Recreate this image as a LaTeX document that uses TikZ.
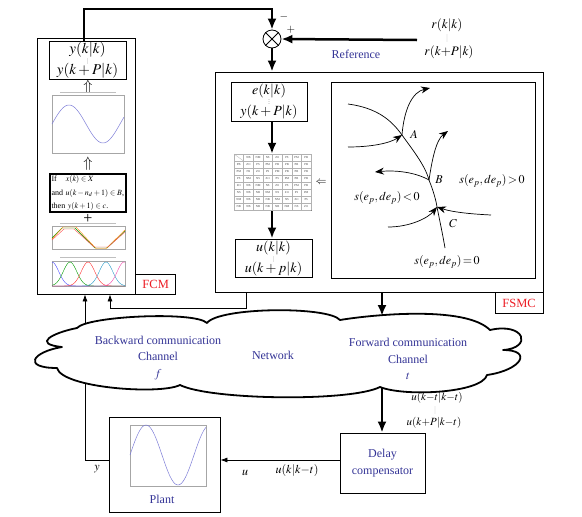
\documentclass[tikz,border=0pt]{standalone}
\usepackage{mathptmx}
\usepackage[no-math]{fontspec}
\setmainfont{Liberation Serif}
\usepackage{amsmath}
\usetikzlibrary{arrows.meta,positioning}

\definecolor{netblue}{RGB}{52,52,150}
\definecolor{tagred}{RGB}{236,28,36}
\definecolor{curveblue}{RGB}{125,125,215}

\begin{document}
\begin{tikzpicture}[x=1pt,y=1pt,yscale=-1,xscale=1,
  frame/.style={draw,line width=0.8pt,inner sep=0pt},
  blk/.style={draw,line width=1pt,inner sep=0pt,align=center,font=\fontsize{14}{14}\selectfont},
  tag/.style={draw,line width=0.6pt,inner sep=0pt,text=tagred,font=\fontsize{12.5}{13}\selectfont},
  bluetxt/.style={text=netblue,align=center,font=\fontsize{12}{16.5}\selectfont},
  mtxt/.style={inner sep=0.75pt,font=\fontsize{12}{12}\selectfont},
  cell/.style={inner sep=0pt,text=gray!50!black,font=\fontsize{3}{3}\selectfont},
  dotline/.style={draw=gray,line width=0.7pt,line cap=round,dash pattern=on 0pt off 2pt},
  thickarr/.style={line width=2.5pt,-{Latex[length=11pt,width=9pt]}},
  thinarr/.style={line width=0.7pt,-{Latex[length=7pt,width=5pt]}},
  traj/.style={line width=0.7pt,-{Stealth[length=9pt,width=7pt]}},
  axbox/.style={draw=gray!70,line width=0.3pt},
  ]
\useasboundingbox (0,0) rectangle (582,517);

%Shape: FCM block
\node[frame,minimum width=98,minimum height=256] (fcm) at (86,166) {};
\node[tag,minimum width=40,minimum height=20,anchor=south west] (fcmtag) at (fcm.south east) {FCM};
\node[blk,minimum width=77,minimum height=38,font=\fontsize{15}{15}\selectfont] (yb) at (87.5,60) {$y(k|k)$\\[6pt]$y(k+P|k)$};
\draw[dotline] (yb.center) ++(0,-1) -- ++(0,4);
\node[inner sep=0pt,font=\fontsize{15}{15}\selectfont] (up1) at (88,87) {$\Uparrow$};
%Plot: model output
\draw[gray!50,line width=0.4pt] (60,92) -- (116,92);
\draw[axbox] (52,95) rectangle (124,153);
\draw[curveblue,line width=0.5pt] plot[domain=52:124,samples=60] (\x,{124-19*sin(deg((\x-52)*2*pi/68))});
\node[inner sep=0pt,font=\fontsize{15}{15}\selectfont] (up2) at (88,164) {$\Uparrow$};
\node[draw,line width=1.4pt,minimum width=76,minimum height=38,inner sep=1.5pt,text width=73,align=left,font=\fontsize{8}{13.5}\selectfont] (rule) at (88,193) {If\hspace{9pt}$x(k)\in X$\\and $u(k-n_d+1)\in B$,\\then $y(k+1)\in c$.};
\node[inner sep=0pt,font=\fontsize{16}{16}\selectfont] (plus) at (88,219) {+};
%Plot: fuzzy model lines
\draw[gray!50,line width=0.4pt] (60,223) -- (116,223);
\draw[axbox] (52,226) rectangle (125,249);
\draw[green!60!black,line width=0.4pt] (52,238) -- (62,228) -- (75,228) -- (95,248) -- (107,248) -- (125,231);
\draw[orange,line width=0.4pt] (52,239) -- (63,227) -- (76,227) -- (96,248.5) -- (106,248.5) -- (125,230);
\draw[red!70,line width=0.4pt] (52,240) -- (64,229) -- (74,229) -- (94,247) -- (108,247) -- (125,232);
%Plot: membership functions
\draw[gray!50,line width=0.4pt] (60,257) -- (116,257);
\draw[axbox] (52,261) rectangle (125,286);
\foreach \c/\col in {52/blue!70,70/green!60!black,88/red!80,106/cyan!80!black,124/magenta!70}
  \draw[\col,line width=0.4pt] plot[domain=52:125,samples=50] (\x,{286-24*exp(-((\x-\c)^2)/90)});

%Shape: FSMC block
\node[frame,minimum width=328,minimum height=220] (fsmc) at (379,182) {};
\node[tag,minimum width=48,minimum height=21,anchor=north east] (fsmctag) at (fsmc.south east) {FSMC};
\node[blk,minimum width=76,minimum height=39] (eb) at (269,101.5) {$e(k|k)$\\[7pt]$y(k+P|k)$};
\draw[dotline] (eb.center) ++(0,-2) -- ++(0,4);
\node[draw=gray,line width=0.4pt,minimum width=77,minimum height=56,inner sep=0pt] (tab) at (272.5,182) {};
\node[blk,minimum width=77,minimum height=38] (ub) at (273.5,258) {$u(k|k)$\\[7pt]$u(k+p|k)$};
\draw[dotline] (ub.center) ++(0,-1) -- ++(0,4);
\coordinate (colx) at (272,0);
\draw[thickarr] (eb.south -| colx) -- (tab.north -| colx);
\draw[thickarr] (tab.south -| colx) -- (ub.north -| colx);
%Rule table
\foreach \k in {0,...,8} {
  \draw[gray!60,line width=0.3pt] ({234+9.625*\k},154) -- ({234+9.625*\k},210);
  \draw[gray!60,line width=0.3pt] (234,{154+7*\k}) -- (311,{154+7*\k});
}
\draw[gray!60,line width=0.3pt] (234,154) -- (243.6,161);
\foreach \h [count=\j] in {NB,NM,NS,ZO,PS,PM,PB}
  \node[cell] (th\j) at ({234+9.625*(\j+0.5)},157.5) {\h};
\foreach \lab/\row [count=\i] in {PB/{ZO,PS,PM,PB,PB,PB,PB},PM/{NS,ZO,PS,PM,PB,PB,PB},PS/{NM,NS,ZO,PS,PM,PB,PB},ZO/{NB,NM,NS,ZO,PS,PM,PB},NS/{NB,NB,NM,NS,ZO,PS,PM},NM/{NB,NB,NB,NM,NS,ZO,PS},NB/{NB,NB,NB,NB,NM,NS,ZO}} {
  \node[cell] (tr\i) at (238.8,{154+7*(\i+0.5)}) {\lab};
  \foreach \v [count=\j] in \row
    \node[cell] (t\i\j) at ({234+9.625*(\j+0.5)},{154+7*(\i+0.5)}) {\v};
}
\node[mtxt,font=\fontsize{11}{11}\selectfont] (larr) at (321,182) {$\Leftarrow$};

%Shape: sliding surface plane
\node[frame,minimum width=204,minimum height=196] (slide) at (433,180) {};
\coordinate (A) at (402,135);
\coordinate (B) at (429,180);
\coordinate (C) at (437,207);
\draw[line width=0.7pt] (348,104) .. controls (378,108) and (392,121) .. (A)
  .. controls (412,149) and (425,165) .. (B)
  .. controls (433,190) and (436,200) .. (C)
  .. controls (440,222) and (443,236) .. (445,248);
\draw[traj] (348,147) .. controls (372,147) and (390,143) .. (A);
\draw[traj] (A) .. controls (404,110) and (412,92) .. (430,88);
\draw[traj] (B) .. controls (432,160) and (436,140) .. (448,131);
\draw[traj] (B) .. controls (415,172) and (395,170) .. (375,172);
\draw[traj] (388,227) .. controls (410,227) and (428,218) .. (C);
\draw[traj] (491,215) .. controls (470,214) and (452,212) .. (C);
% Text Node
\node[mtxt] (lA) at (414,134) {$A$};
\node[mtxt] (lB) at (439,180) {$B$};
\node[mtxt] (lC) at (453,224) {$C$};
\node[mtxt] (spos) at (492,181) {$s(e_p,de_p)\!>\!0$};
\node[mtxt] (sneg) at (387,198) {$s(e_p,de_p)\!<\!0$};
\node[mtxt] (szero) at (447,262) {$s(e_p,de_p)\!=\!0$};

%Summing junction and reference
\coordinate (topl) at (84,9);
\node[draw,circle,minimum size=18,inner sep=0pt,line width=0.8pt] (sum) at (272,39) {};
\draw[line width=0.8pt] (sum.north west) -- (sum.south east) (sum.north east) -- (sum.south west);
\draw[thickarr] (topl |- yb.north) -- (topl) -| (sum.north);
\node[mtxt,font=\fontsize{11}{11}\selectfont] (minus) at (284,17) {$-$};
\node[mtxt,font=\fontsize{11}{11}\selectfont] (plusin) at (291,30) {$+$};
\node[mtxt,font=\fontsize{13}{13}\selectfont] (ref1) at (447,25) {$r(k|k)$};
\draw[dotline] (447,35) -- (447,41);
\node[mtxt,font=\fontsize{13}{13}\selectfont] (ref2) at (449,52) {$r(k{+}P|k)$};
\coordinate (refstart) at (417,40);
\draw[thickarr] (refstart) -- (sum.east);
\node[bluetxt] (reflab) at (356,54) {Reference};
\draw[thickarr] (sum.south) -- (sum.south |- fsmc.north);

%Plant and delay compensator
\node[frame,minimum width=111,minimum height=95] (plant) at (164.5,464.5) {};
\draw[axbox] (130,425) rectangle (206,486);
\draw[curveblue,line width=0.5pt] plot[domain=130:206,samples=60] (\x,{455-30*sin(deg((\x-130)*2*pi/64))});
\node[bluetxt] (plantlab) at (162,499) {Plant};
\node[frame,minimum width=85,minimum height=60,bluetxt] (delay) at (382.5,463) {Delay\\compensator};

%Straight Lines
\coordinate (fb1) at (246,308);
\coordinate (fb2) at (110,308);
\draw[thinarr] (fsmc.south -| fb1) |- (fb2) -- (fb2 |- fcm.south);
\coordinate (yx) at (85,460);
\draw[thinarr] (plant.west |- yx) -- (yx) -- (yx |- fcm.south);
\draw[thinarr] (delay.west |- yx) -- (plant.east |- yx);

%Shape: network cloud
\draw[line width=1.8pt,fill=white,line join=round]
  (77,328) .. controls +(10,-12) and +(-12,-12) .. (207,323)
  .. controls +(12,-16) and +(-12,-14) .. (340,320)
  .. controls +(30,-5) and +(-25,-25) .. (490,330)
  .. controls +(35,-8) and +(30,-2) .. (503,350)
  .. controls +(30,0) and +(35,-5) .. (487,375)
  .. controls +(-5,18) and +(25,10) .. (380,387)
  .. controls +(-30,15) and +(30,15) .. (180,385)
  .. controls +(-20,10) and +(5,20) .. (57,368)
  .. controls +(-35,0) and +(-30,5) .. (62,347)
  .. controls +(-30,-3) and +(-25,5) .. (77,328) -- cycle;
\coordinate (ctop) at (382,316);
\coordinate (cbot) at (382,388);
\draw[thickarr] (fsmc.south -| ctop) -- (ctop);
\draw[thickarr] (cbot) -- (cbot |- delay.north);

% Text Node
\node[bluetxt] (bwd) at (158,358) {Backward communication\\Channel\\$f$};
\node[bluetxt] (net) at (273,355) {Network};
\node[bluetxt] (fwd) at (408,359) {Forward communication\\Channel\\$t$};
\node[mtxt,font=\fontsize{11}{11}\selectfont] (uk1) at (437,398) {$u(k{-}t|k{-}t)$};
\draw[dotline] (435,407) -- (435,413);
\node[mtxt,font=\fontsize{11}{11}\selectfont] (uk2) at (434,423) {$u(k{+}P|k{-}t)$};
\node[mtxt] (ylab) at (97,469) {$y$};
\node[mtxt] (ulab) at (245,473) {$u$};
\node[mtxt] (uklab) at (297,470) {$u(k|k{-}t)$};

\end{tikzpicture}
\end{document}
